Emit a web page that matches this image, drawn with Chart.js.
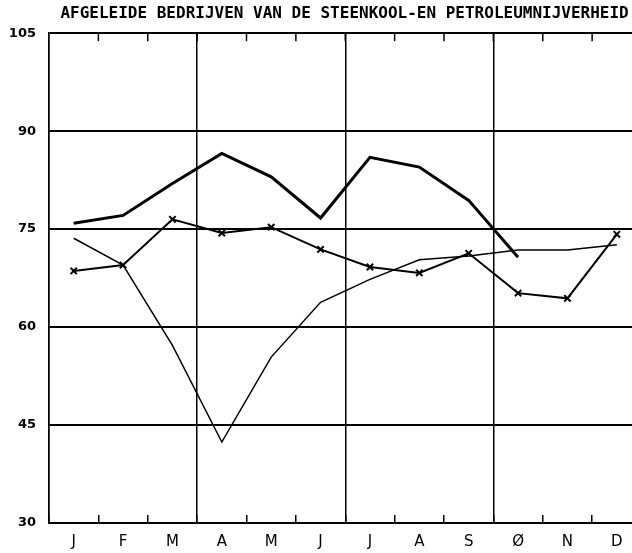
<!DOCTYPE html>
<html>
<head>
<meta charset="utf-8">
<script src="https://cdn.jsdelivr.net/npm/chart.js@4"></script>
<style>
  html, body { margin: 0; background: #fff; overflow: hidden; width: 632px; height: 553px; }
  canvas { display: block; }
</style>
</head>
<body>
<canvas id="chart" width="648" height="553"></canvas>
<script>
var months = ['J', 'F', 'M', 'A', 'M', 'J', 'J', 'A', 'S', 'Ø', 'N', 'D'];
var yTicks = [30, 45, 60, 75, 90, 105];

// three index series
var thickLine = [75.9, 77.1, 82.0, 86.6, 83.0, 76.7, 86.0, 84.5, 79.4, 70.7, null, null];
var crossLine = [68.6, 69.5, 76.5, 74.4, 75.3, 71.9, 69.2, 68.3, 71.3, 65.2, 64.4, 74.2];
var thinLine = [73.6, 69.5, 57.2, 42.4, 55.4, 63.8, 67.3, 70.3, 70.9, 71.8, 71.8, 72.6];

// quarter boundaries get a full vertical line
var quarterLines = [0, 3, 6, 9];

// short month marks hanging from the top edge
var topTicks = {
    id: 'topTicks',
    beforeDatasetsDraw: function (chart) {
        var x = chart.scales.x;
        var top = chart.chartArea.top;
        var half = (x.getPixelForValue(1) - x.getPixelForValue(0)) / 2;
        var c = chart.ctx;
        c.save();
        c.strokeStyle = '#000';
        c.lineWidth = 1.5;
        for (var i = 0; i < months.length; i++) {
            var px = x.getPixelForValue(i) + half;
            c.beginPath();
            c.moveTo(px, top);
            c.lineTo(px, top + 8);
            c.stroke();
        }
        c.restore();
    }
};

var ctx = document.getElementById('chart').getContext('2d');

// the plot runs a little past the right edge of the page, as in the original
var chart = new Chart(ctx, {
    type: 'line',
    data: {
        labels: months,
        datasets: [{
            data: thickLine,
            borderColor: '#000',
            borderWidth: 3,
            pointRadius: 0,
            spanGaps: false
        }, {
            data: crossLine,
            borderColor: '#000',
            borderWidth: 2,
            pointStyle: 'crossRot',
            pointRadius: 4.5,
            pointBorderWidth: 2,
            pointBorderColor: '#000'
        }, {
            data: thinLine,
            borderColor: '#000',
            borderWidth: 1.5,
            pointRadius: 0
        }]
    },
    plugins: [topTicks],
    options: {
        responsive: false,
        animation: false,
        layout: { padding: 0 },
        elements: { line: { tension: 0 } },
        plugins: {
            legend: { display: false },
            tooltip: { enabled: false },
            title: {
                display: true,
                // trailing spaces keep the end of the title inside the page
                text: 'AFGELEIDE BEDRIJVEN VAN DE STEENKOOL-EN PETROLEUMNIJVERHEID  ',
                align: 'end',
                color: '#000',
                font: { family: 'DejaVu Sans Mono', size: 16, weight: 'bold', lineHeight: 1.2 },
                padding: { top: 4, bottom: 10 }
            }
        },
        scales: {
            x: {
                type: 'category',
                position: 'bottom',
                offset: true,
                afterFit: function (s) { s.height = 30; },
                grid: {
                    offset: true,
                    color: function (c) {
                        return quarterLines.indexOf(c.index) >= 0 ? '#000' : 'rgba(0,0,0,0)';
                    },
                    lineWidth: 1.5,
                    drawTicks: true,
                    tickLength: -8,
                    tickColor: '#000',
                    tickWidth: 1.5
                },
                border: { display: true, color: '#000', width: 2 },
                ticks: {
                    color: '#000',
                    padding: 18,
                    font: { family: 'DejaVu Sans', size: 15 }
                }
            },
            y: {
                min: 30,
                max: 105,
                afterFit: function (s) { s.width = 49; },
                afterBuildTicks: function (s) {
                    s.ticks = yTicks.map(function (v) { return { value: v }; });
                },
                grid: {
                    color: '#000',
                    lineWidth: 2,
                    drawTicks: false
                },
                border: { display: true, color: '#000', width: 1.5 },
                ticks: {
                    color: '#000',
                    padding: 13,
                    font: { family: 'DejaVu Sans', size: 13, weight: 'bold' }
                }
            }
        }
    }
});
</script>
</body>
</html>
